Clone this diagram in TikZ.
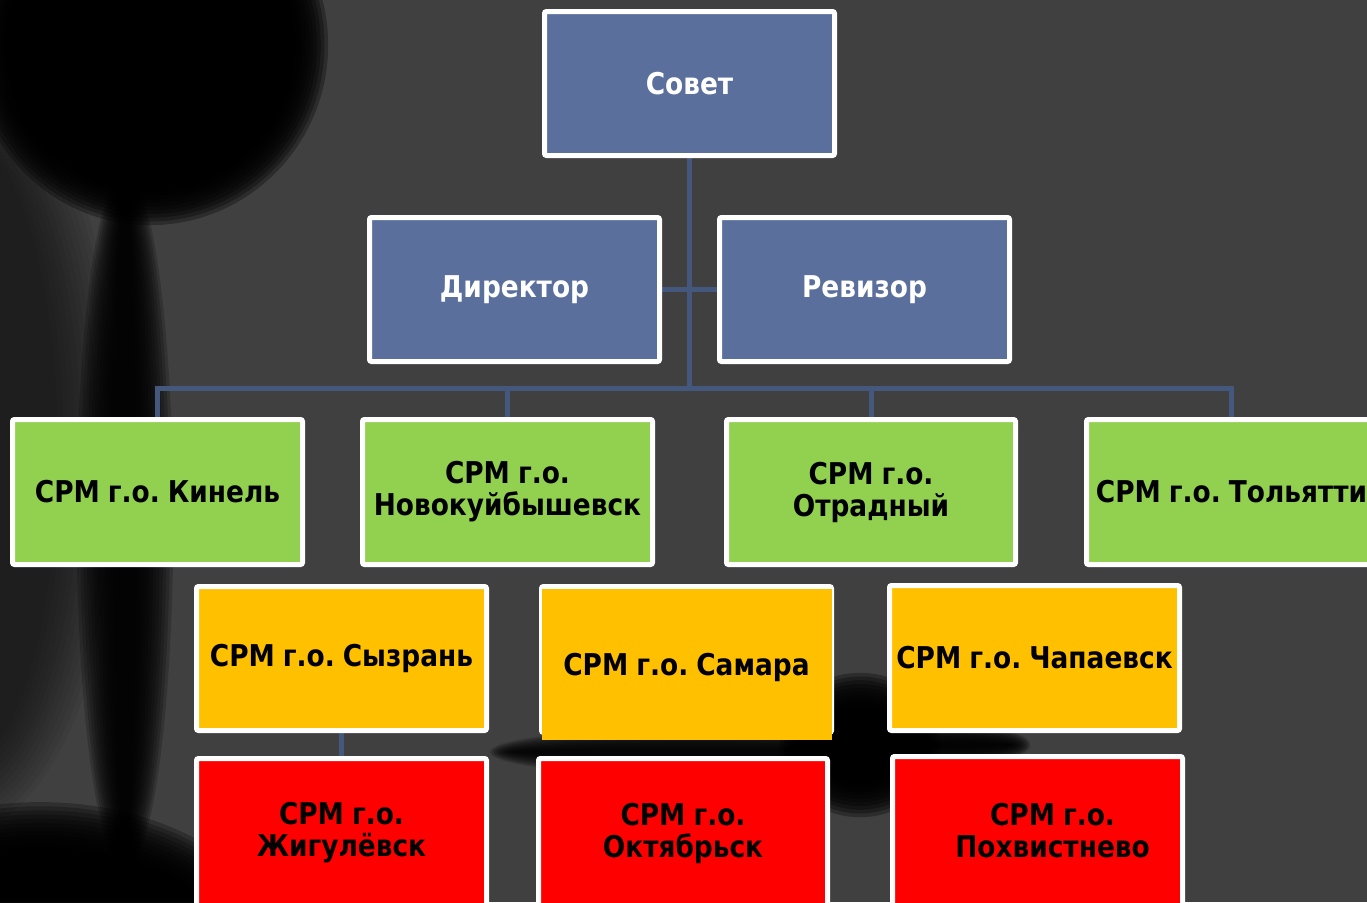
\documentclass[tikz,border=0pt]{standalone}
\usepackage{fontspec}
\newfontfamily\boxfont{DejaVu Sans}[FakeStretch=0.88]
\definecolor{bgcol}{HTML}{404040}
\definecolor{boxblue}{HTML}{5B6F9D}
\definecolor{linkblue}{HTML}{44587E}
\definecolor{boxgreen}{HTML}{92D050}
\definecolor{boxyellow}{HTML}{FFC000}
\definecolor{boxred}{HTML}{FF0000}
\pgfdeclarelayer{back}
\pgfdeclarelayer{edges}
\pgfsetlayers{back,edges,main}
\frenchspacing
% soft (blurred) dark shape: x, y, x radius, y radius, blur width, opacity per layer
\newcommand\softblob[6]{%
  \foreach \k in {0,...,11}{%
    \fill[black, opacity=#6] (#1,#2) ellipse [x radius={#3+#5*(\k-5.5)/12}, y radius={#4+#5*(\k-5.5)/12}];
  }}
\newcommand\boxtextfont{\boxfont\bfseries\fontsize{30}{32}\selectfont\frenchspacing\spaceskip=8pt plus 2pt minus 1pt\relax}
\begin{document}
\begin{tikzpicture}[x=1pt,y=-1pt,
  box/.style={draw=white, line width=5pt, rounded corners=2pt,
    minimum width=290pt, minimum height=144pt, inner sep=0pt, align=center,
    font=\boxtextfont},
  bluebox/.style={box, fill=boxblue, text=white},
  greenbox/.style={box, fill=boxgreen, text=black, minimum height=145pt},
  yellowbox/.style={box, fill=boxyellow, text=black},
  redbox/.style={box, fill=boxred, text=black, minimum height=149pt},
  labeltext/.style={inner sep=0pt, align=center, text=black, font=\boxtextfont},
  link/.style={draw=linkblue, line width=5pt}]
\useasboundingbox (0,0) rectangle (1367,902);
\clip (0,0) rectangle (1367,902);
\begin{pgfonlayer}{back}
\fill[bgcol] (0,0) rectangle (1367,902);
\softblob{-40}{450}{130}{350}{70}{0.05}
\softblob{125}{520}{30}{330}{40}{0.2}
\softblob{150}{45}{158}{160}{44}{0.3}
\softblob{40}{975}{230}{150}{50}{0.25}
\softblob{860}{745}{60}{52}{44}{0.3}
\softblob{700}{752}{200}{14}{22}{0.15}
\softblob{940}{745}{80}{12}{22}{0.2}
\end{pgfonlayer}

\node[bluebox] (sovet) at (689.5,83.5) {Совет};
\node[bluebox] (dir) at (514.5,289.5) {Директор};
\node[bluebox] (rev) at (864.5,289.5) {Ревизор};

\node[greenbox] (g1) at (157.5,492) {СРМ г.о. Кинель};
\node[greenbox] (g2) at (507.5,492) {СРМ г.о.\\Новокуйбышевск};
\node[greenbox, minimum width=289pt] (g3) at (871,492) {СРМ г.о.\\Отрадный};
\node[greenbox] (g4) at (1231.5,492) {СРМ г.о. Тольятти};

\node[yellowbox] (y1) at (341.5,658.5) {СРМ г.о. Сызрань};
\node[yellowbox, minimum height=146pt] (y2) at (686.5,659.5) {};
\fill[boxyellow] (542,589) rectangle (832,740);
\node[labeltext] (y2t) at (686.5,667) {СРМ г.о. Самара};
\node[yellowbox, minimum height=145pt] (y3) at (1034.5,658) {СРМ г.о. Чапаевск};

\node[redbox] (r1) at (341.5,833) {СРМ г.о.\\Жигулёвск};
\node[redbox, minimum width=289pt] (r2) at (683,833) {СРМ г.о.\\Октябрьск};
\node[redbox] (r3) at (1037.5,831) {\hspace*{30pt}СРМ г.о.\\\hspace*{30pt}Похвистнево};

\begin{pgfonlayer}{edges}
\coordinate (bus) at (689.5,388);
\draw[link] (sovet.south) -- (bus);
\draw[link] (dir.east) -- (rev.west);
\draw[link] (g1.north) -- (g1.north |- bus) -- (g4.north |- bus) -- (g4.north);
\draw[link] (g2.north) -- (g2.north |- bus);
\draw[link] (g3.north) -- (g3.north |- bus);
\draw[link] (y1.south) -- (r1.north);
\end{pgfonlayer}
\end{tikzpicture}
\end{document}
